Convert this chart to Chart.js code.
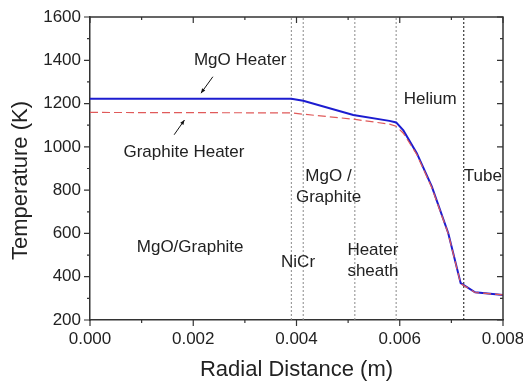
<!DOCTYPE html>
<html>
<head>
<meta charset="utf-8">
<script src="https://cdn.jsdelivr.net/npm/chart.js@4.4.1/dist/chart.umd.min.js"></script>
<style>
  body { margin: 0; background: #fff; }
  #wrap { width: 523px; height: 381px; }
</style>
</head>
<body>
<div id="wrap"><canvas id="tempChart" width="523" height="381"></canvas></div>
<script>
// radial positions (m) and temperatures (K)
const radius   = [0, 0.0039, 0.00413, 0.0051, 0.0058, 0.00593, 0.00607, 0.00633, 0.00662, 0.00694, 0.00718, 0.00746, 0.008];
const mgoTemp  = [1222, 1222, 1213, 1147, 1120, 1113, 1076, 971, 817, 601, 370, 328, 316];
const graphTemp = [1159, 1157, 1151, 1128, 1105, 1095, 1063, 965, 812, 598, 368, 327, 316];

// layer boundaries (m), last one is the tube wall
const boundaries = [0.0039, 0.00413, 0.00513, 0.00593, 0.00724];

const xTicks = [0, 0.002, 0.004, 0.006, 0.008];
const yTicks = [200, 400, 600, 800, 1000, 1200, 1400, 1600];

// region labels, placed in data units
const labels = [
    { text: "MgO Heater", x: 0.00291, y: 1399 },
    { text: "Graphite Heater", x: 0.00182, y: 977 },
    { text: "MgO/Graphite", x: 0.00194, y: 536 },
    { text: "Helium", x: 0.00659, y: 1221 },
    { text: "Tube", x: 0.00761, y: 863 },
    { text: "MgO /", x: 0.00462, y: 866 },
    { text: "Graphite", x: 0.00462, y: 767 },
    { text: "NiCr", x: 0.00403, y: 465 },
    { text: "Heater", x: 0.00548, y: 524 },
    { text: "sheath", x: 0.00548, y: 427 }
];
const arrows = [
    { from: [0.00238, 1324], to: [0.00215, 1248] },
    { from: [0.00163, 1056], to: [0.00183, 1124] }
];

const FONT = "'Liberation Sans', Arial, sans-serif";
const TEXT = "#222";

const pts = (ys) => radius.map((r, i) => ({ x: r, y: ys[i] }));

const datasets = [
    { data: pts(graphTemp), borderColor: "#e05a5a", borderWidth: 1.2, borderDash: [8, 4] },
    { data: pts(mgoTemp), borderColor: "#1c1cd0", borderWidth: 2 }
];
boundaries.forEach((b, i) => {
    datasets.push({
        data: [{ x: b, y: 200 }, { x: b, y: 1600 }],
        borderColor: i === boundaries.length - 1 ? "#111" : "#8a8a8a",
        borderWidth: 1,
        borderDash: [2, 2]
    });
});

const decor = {
    id: "decor",
    afterDraw(chart) {
        const { ctx, chartArea: a, scales: { x, y } } = chart;
        ctx.save();
        ctx.strokeStyle = "#333";
        ctx.lineWidth = 1.5;
        ctx.beginPath();
        ctx.moveTo(a.left, a.top); ctx.lineTo(a.right, a.top); ctx.lineTo(a.right, a.bottom);
        ctx.stroke();

        // ticks: out on left/bottom, in on top/right
        ctx.lineWidth = 1.2;
        ctx.beginPath();
        for (let v = 0; v <= 0.008 + 1e-9; v += 0.001) {
            const px = x.getPixelForValue(v);
            const len = Math.round(v * 1000) % 2 === 0 ? 6 : 3;
            ctx.moveTo(px, a.bottom); ctx.lineTo(px, a.bottom + len);
            ctx.moveTo(px, a.top); ctx.lineTo(px, a.top + len);
        }
        for (let v = 200; v <= 1600; v += 100) {
            const py = y.getPixelForValue(v);
            const len = v % 200 === 0 ? 6 : 3;
            ctx.moveTo(a.left, py); ctx.lineTo(a.left - len, py);
            ctx.moveTo(a.right, py); ctx.lineTo(a.right - len, py);
        }
        ctx.stroke();

        ctx.fillStyle = TEXT;
        ctx.font = "17px " + FONT;
        ctx.textAlign = "center";
        ctx.textBaseline = "middle";
        labels.forEach(l => ctx.fillText(l.text, x.getPixelForValue(l.x), y.getPixelForValue(l.y)));

        ctx.strokeStyle = "#111";
        ctx.fillStyle = "#111";
        ctx.lineWidth = 1;
        arrows.forEach(ar => {
            const x1 = x.getPixelForValue(ar.from[0]), y1 = y.getPixelForValue(ar.from[1]);
            const x2 = x.getPixelForValue(ar.to[0]), y2 = y.getPixelForValue(ar.to[1]);
            const ang = Math.atan2(y2 - y1, x2 - x1);
            ctx.beginPath(); ctx.moveTo(x1, y1); ctx.lineTo(x2, y2); ctx.stroke();
            ctx.beginPath();
            ctx.moveTo(x2, y2);
            ctx.lineTo(x2 - 5 * Math.cos(ang - 0.4), y2 - 5 * Math.sin(ang - 0.4));
            ctx.lineTo(x2 - 5 * Math.cos(ang + 0.4), y2 - 5 * Math.sin(ang + 0.4));
            ctx.closePath(); ctx.fill();
        });

        // y title, sits a little below the axis centre in the original
        ctx.fillStyle = TEXT;
        ctx.font = "22px " + FONT;
        ctx.translate(21, (a.top + a.bottom) / 2 + 12);
        ctx.rotate(-Math.PI / 2);
        ctx.fillText("Temperature (K)", 0, 0);
        ctx.restore();
    }
};

new Chart(document.getElementById("tempChart"), {
    type: "line",
    data: { datasets },
    options: {
        responsive: false,
        animation: false,
        layout: { padding: { top: 17, right: 20, left: 0, bottom: 0 } },
        elements: { point: { radius: 0 }, line: { tension: 0 } },
        plugins: { legend: { display: false }, tooltip: { enabled: false } },
        scales: {
            x: {
                type: "linear", min: 0, max: 0.008,
                afterBuildTicks: s => { s.ticks = xTicks.map(v => ({ value: v })); },
                afterFit: s => { s.height = 61; s.paddingLeft = 0; s.paddingRight = 0; },
                ticks: { color: TEXT, font: { size: 17, family: FONT }, padding: 3, maxRotation: 0,
                         callback: v => v.toFixed(3) },
                grid: { display: false, drawTicks: true, tickLength: 6 },
                border: { display: true, color: "#333", width: 1.5 },
                title: { display: true, text: "Radial Distance (m)", color: TEXT,
                         font: { size: 22, family: FONT, lineHeight: 1 }, padding: { top: 0, bottom: 0 } }
            },
            y: {
                min: 200, max: 1600,
                afterBuildTicks: s => { s.ticks = yTicks.map(v => ({ value: v })); },
                afterFit: s => { s.width = 90; s.paddingTop = 0; s.paddingBottom = 0; },
                ticks: { color: TEXT, font: { size: 17, family: FONT }, padding: 3,
                         callback: v => String(v) },
                grid: { display: false, drawTicks: true, tickLength: 6 },
                border: { display: true, color: "#333", width: 1.5 }
            }
        }
    },
    plugins: [decor]
});
</script>
</body>
</html>
